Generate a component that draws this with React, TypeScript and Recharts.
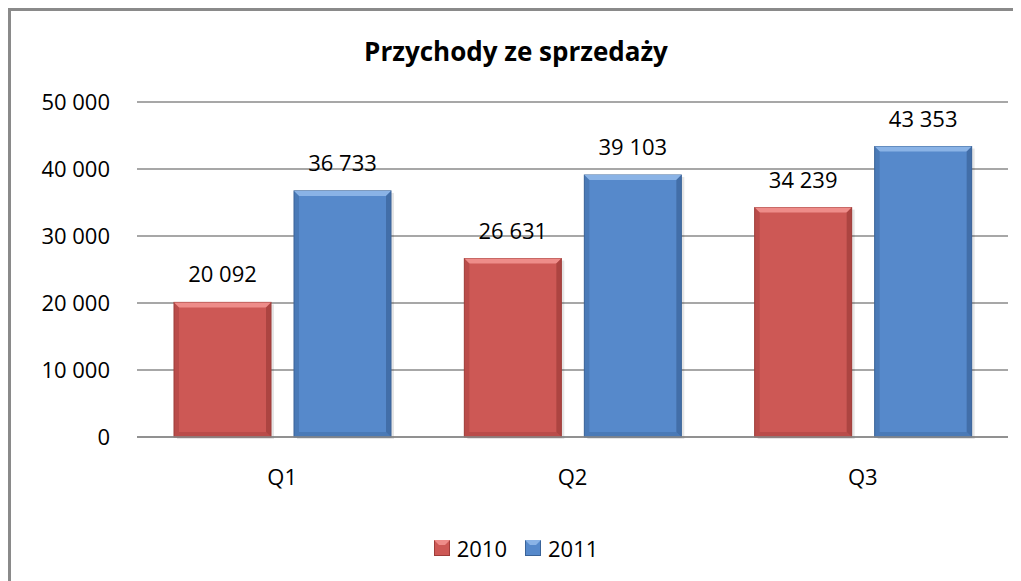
import React from "react";
import { BarChart, Bar, XAxis, YAxis, CartesianGrid, LabelList, Legend } from "recharts";

const categories = ["Q1", "Q2", "Q3"];
const values2010 = [20092, 26631, 34239];
const values2011 = [36733, 39103, 43353];
const yTicks = [0, 10000, 20000, 30000, 40000, 50000];
const title = "Przychody ze sprzedaży";

const data = categories.map((c, i) => ({ name: c, y2010: values2010[i], y2011: values2011[i] }));

const fmt = (v: number) => {
  const s = String(Math.round(v));
  return s.replace(/\B(?=(\d{3})+(?!\d))/g, "\u00a0");
};

const FONT = "'Open Sans', 'Noto Sans', sans-serif";

const palette: Record<string, { main: string; light: string; dark: string }> = {
  red: { main: "#CD5855", light: "#EE8C89", dark: "#9E3C39" },
  blue: { main: "#5689CB", light: "#8AB3E6", dark: "#3A6398" },
};

const makeShape = (key: string) => (props: any) => {
  const { x, y, width, height } = props;
  const p = palette[key];
  const b = 5;
  if (!height || height <= 0) return <g />;
  return (
    <g>
      <rect x={x + 3} y={y + 2} width={width} height={height} fill="#000" opacity={0.1} />
      <rect x={x} y={y} width={width} height={height} fill={p.main} stroke={p.dark} strokeWidth={1} />
      <polygon points={`${x},${y} ${x + width},${y} ${x + width - b},${y + b} ${x + b},${y + b}`} fill={p.light} />
      <polygon points={`${x},${y} ${x + b},${y + b} ${x + b},${y + height - b} ${x},${y + height}`} fill={p.dark} opacity={0.4} />
      <polygon points={`${x + width},${y} ${x + width - b},${y + b} ${x + width - b},${y + height - b} ${x + width},${y + height}`} fill={p.dark} opacity={0.7} />
      <polygon points={`${x},${y + height} ${x + b},${y + height - b} ${x + width - b},${y + height - b} ${x + width},${y + height}`} fill={p.dark} opacity={0.4} />
    </g>
  );
};

const LegendContent = () => (
  <div style={{ display: "flex", justifyContent: "center", alignItems: "center", fontFamily: FONT, fontSize: 22, color: "#000", height: 30 }}>
    {[
      { k: "red", label: "2010" },
      { k: "blue", label: "2011" },
    ].map((it, i) => (
      <div key={i} style={{ display: "flex", alignItems: "center", marginLeft: i ? 18 : 0 }}>
        <svg width={16} height={16} style={{ marginRight: 7 }}>
          <rect x={0.5} y={0.5} width={15} height={15} fill={palette[it.k].main} stroke={palette[it.k].dark} />
          <polygon points="0,0 16,0 11,5 5,5" fill={palette[it.k].light} />
        </svg>
        <span>{it.label}</span>
      </div>
    ))}
  </div>
);

export default function App() {
  return (
    <div style={{ position: "relative", width: 1013, height: 573, borderLeft: "3px solid #8a8a8a", borderTop: "3px solid #8a8a8a", boxSizing: "border-box", background: "#fff" }}>
      <div style={{ position: "absolute", left: 0, width: 1010, top: 22, textAlign: "center", fontFamily: FONT, fontWeight: 700, fontSize: 26, color: "#000" }}>
        {title}
      </div>
      <BarChart
        width={1010}
        height={570}
        data={data}
        margin={{ top: 91, right: 13, left: 0, bottom: 74 }}
        barGap={23}
        barSize={97}
      >
        <CartesianGrid vertical={false} stroke="#8a8a8a" strokeWidth={1.5} />
        <XAxis
          dataKey="name"
          tickLine={false}
          axisLine={{ stroke: "#8a8a8a", strokeWidth: 1.5 }}
          tickSize={0}
          tickMargin={32}
          height={40}
          tick={{ fill: "#000", fontSize: 22, fontFamily: FONT }}
        />
        <YAxis
          width={126}
          domain={[0, 50000]}
          ticks={yTicks}
          tickFormatter={fmt}
          axisLine={false}
          tickLine={false}
          tickSize={0}
          tickMargin={27}
          tick={{ fill: "#000", fontSize: 22, fontFamily: FONT }}
        />
        <Legend content={<LegendContent />} wrapperStyle={{ top: 522, left: 0, width: 1010 }} />
        <Bar dataKey="y2010" isAnimationActive={false} shape={makeShape("red")}>
          <LabelList dataKey="y2010" position="top" offset={20} formatter={(v: any) => fmt(Number(v))} style={{ fill: "#000", fontSize: 22, fontFamily: FONT }} />
        </Bar>
        <Bar dataKey="y2011" isAnimationActive={false} shape={makeShape("blue")}>
          <LabelList dataKey="y2011" position="top" offset={20} formatter={(v: any) => fmt(Number(v))} style={{ fill: "#000", fontSize: 22, fontFamily: FONT }} />
        </Bar>
      </BarChart>
    </div>
  );
}
